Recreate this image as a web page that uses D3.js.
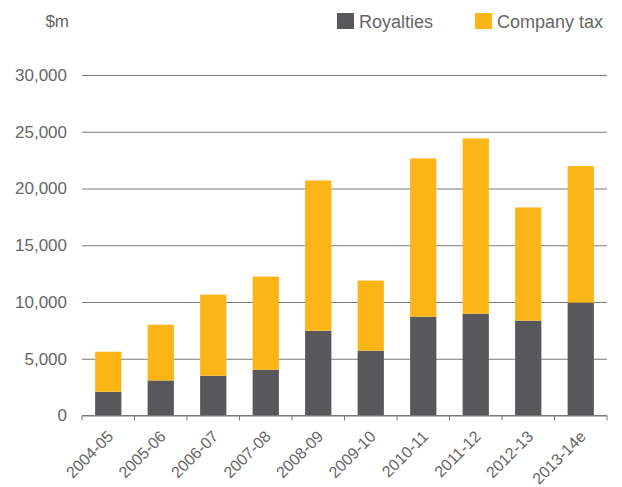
<!DOCTYPE html>
<html>
<head>
<meta charset="utf-8">
<script src="https://cdn.jsdelivr.net/npm/d3@7"></script>
<style>
  body { margin: 0; background: #fff; }
  text { font-family: "Liberation Sans", Arial, sans-serif; fill: #666; }
</style>
</head>
<body>
<svg id="chart" width="622" height="487"></svg>
<script>
// data ($m)
let years = ["2004-05", "2005-06", "2006-07", "2007-08", "2008-09", "2009-10", "2010-11", "2011-12", "2012-13", "2013-14e"];
let royalties = [2090, 3090, 3500, 4030, 7470, 5710, 8710, 8970, 8360, 9950];
let totals = [5620, 8000, 10650, 12240, 20710, 11890, 22650, 24410, 18330, 21970];
let companyTax = totals.map(function(t, i){ return t - royalties[i]; });
let yTicks = [0, 5000, 10000, 15000, 20000, 25000, 30000];
let seriesNames = ["Royalties", "Company tax"];
let colors = ["#58585a", "#fbb516"];

let chart = d3.select("#chart");
let plotLeft = 82, plotRight = 607, plotTop = 75, plotBottom = 415.5;

let x = d3.scaleBand()
    .domain(years)
    .range([plotLeft, plotRight])
    .paddingInner(0.5)
    .paddingOuter(0.25);

let y = d3.scaleLinear()
    .domain([0, 30000])
    .range([plotBottom, plotTop]);

// gridlines + y labels
let yAxis = chart.append("g")
    .attr("transform", "translate(" + plotLeft + ",0)")
    .call(d3.axisLeft(y).tickValues(yTicks).tickSize(-(plotRight - plotLeft)).tickPadding(15)
        .tickFormat(d3.format(",")));
yAxis.select(".domain").remove();
yAxis.selectAll("line").attr("stroke", "#7a7a7a").attr("stroke-width", 1.2);
yAxis.selectAll("text").attr("font-size", "17px").attr("font-family", null).style("fill", "#666");

// stacked bars
let rows = years.map(function(yr, i){ return {year: yr, r: royalties[i], c: companyTax[i]}; });
let stack = d3.stack().keys(["r", "c"])(rows);

chart.append("g").selectAll("g")
    .data(stack)
    .enter()
    .append("g")
        .attr("fill", function(d, i){ return colors[i]; })
    .selectAll("rect")
    .data(function(d){ return d; })
    .enter()
    .append("rect")
        .attr("x", function(d){ return x(d.data.year); })
        .attr("y", function(d){ return y(d[1]); })
        .attr("width", x.bandwidth())
        .attr("height", function(d){ return y(d[0]) - y(d[1]); });

// x axis with boundary ticks
let xAxis = chart.append("g").attr("transform", "translate(0," + plotBottom + ")");
xAxis.append("line")
    .attr("x1", plotLeft).attr("x2", plotRight)
    .attr("stroke", "#7a7a7a").attr("stroke-width", 1.2);
let step = x.step();
let bounds = years.map(function(d){ return x(d) - x.paddingOuter() * step; }).concat([plotRight]);
xAxis.selectAll(".tk")
    .data(bounds)
    .enter()
    .append("line")
        .attr("x1", function(d){ return d; })
        .attr("x2", function(d){ return d; })
        .attr("y1", 0).attr("y2", 5)
        .attr("stroke", "#7a7a7a");
xAxis.selectAll(".lbl")
    .data(years)
    .enter()
    .append("text")
        .attr("font-size", "16px")
        .attr("text-anchor", "end")
        .attr("transform", function(d){
            return "translate(" + (x(d) + x.bandwidth() / 2 + 6) + ",22) rotate(-45)";
        })
        .text(function(d){ return d; });

// unit label
chart.append("text")
    .attr("x", 69).attr("y", 27)
    .attr("text-anchor", "end")
    .attr("font-size", "17px")
    .text("$m");

// legend
let legendX = [337, 475];
let legend = chart.append("g").selectAll("g")
    .data(seriesNames)
    .enter()
    .append("g")
        .attr("transform", function(d, i){ return "translate(" + legendX[i] + ",13)"; });
legend.append("rect")
    .attr("width", 17).attr("height", 16)
    .attr("fill", function(d, i){ return colors[i]; });
legend.append("text")
    .attr("x", 22).attr("y", 14.5)
    .attr("font-size", "18px")
    .text(function(d){ return d; });
</script>
</body>
</html>
